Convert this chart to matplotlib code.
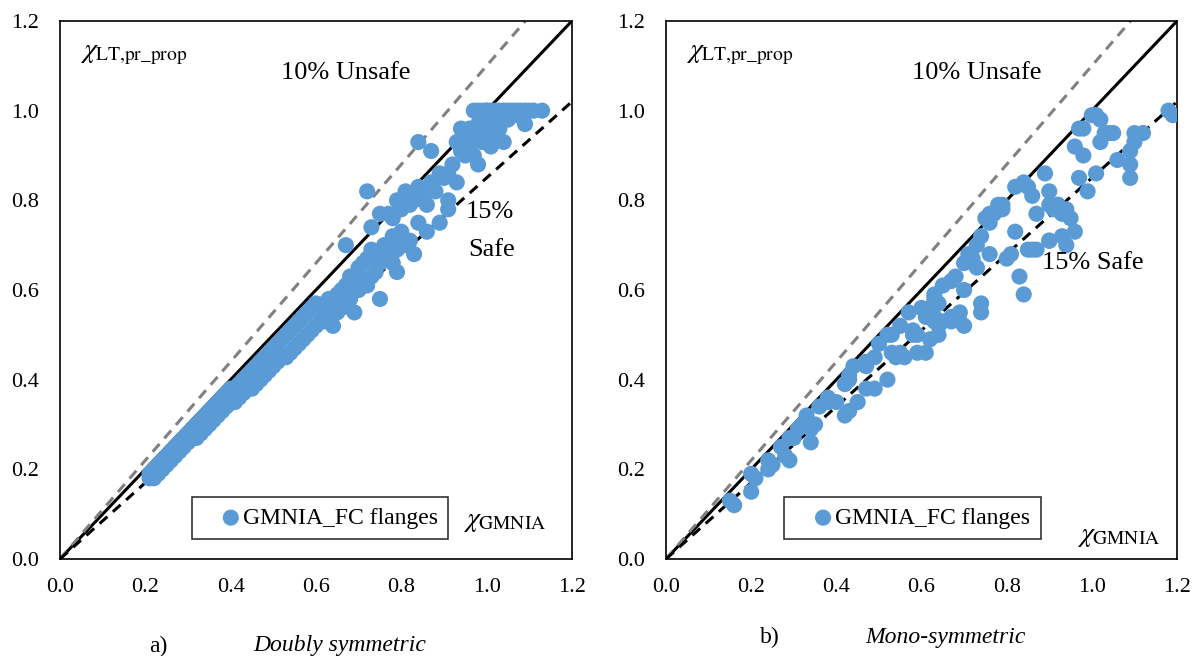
import matplotlib
matplotlib.use('Agg')
import matplotlib.pyplot as plt

plt.rcParams['font.family'] = ['Liberation Serif', 'DejaVu Serif']
plt.rcParams['mathtext.fontset'] = 'stix'

# Données : (chi_GMNIA, chi_LT,pr_prop)
ds_x = [0.21, 0.21, 0.22, 0.22, 0.23, 0.23, 0.24, 0.24, 0.25, 0.25, 0.26, 0.26, 0.27, 0.27,
        0.28, 0.28, 0.29, 0.29, 0.30, 0.30, 0.31, 0.31, 0.32, 0.32, 0.33, 0.33, 0.34, 0.34,
        0.35, 0.35, 0.36, 0.36, 0.37, 0.37, 0.38, 0.38, 0.39, 0.39, 0.40, 0.40, 0.41, 0.41,
        0.42, 0.42, 0.43, 0.43, 0.44, 0.44, 0.45, 0.45, 0.46, 0.46, 0.47, 0.47, 0.48, 0.48,
        0.49, 0.49, 0.50, 0.50, 0.51, 0.51, 0.52, 0.52, 0.53, 0.53, 0.54, 0.54, 0.55, 0.55,
        0.56, 0.56, 0.57, 0.57, 0.58, 0.58, 0.59, 0.59, 0.60, 0.60, 0.61, 0.61, 0.62, 0.62,
        0.63, 0.63, 0.64, 0.64, 0.65, 0.65, 0.66, 0.66, 0.67, 0.67, 0.68, 0.68, 0.69, 0.69,
        0.70, 0.70, 0.71, 0.71, 0.72, 0.72, 0.73, 0.73, 0.74, 0.74, 0.75, 0.75, 0.76, 0.76,
        0.77, 0.78, 0.79, 0.79,
        0.67, 0.72, 0.73, 0.75, 0.77, 0.78, 0.79, 0.80, 0.81, 0.82, 0.83, 0.84, 0.85, 0.86,
        0.84, 0.87, 0.87, 0.88, 0.89, 0.90, 0.91, 0.91, 0.92, 0.93, 0.82, 0.83, 0.89, 0.91,
        0.84, 0.86, 0.80, 0.81, 0.78,
        0.93, 0.94, 0.95, 0.96, 0.96, 0.97, 0.97, 0.98, 0.98, 0.99, 0.99, 1.00, 1.00, 1.01,
        1.01, 1.02, 1.02, 1.03, 1.04, 0.97, 0.98, 0.99, 1.00, 1.01, 1.02, 1.03, 1.04, 1.05,
        1.06, 1.07, 1.08, 1.09, 1.10, 1.11, 1.13, 1.05, 1.07, 1.09, 0.95, 0.94]
ds_y = [0.18, 0.19, 0.20, 0.18, 0.19, 0.21, 0.20, 0.22, 0.21, 0.23, 0.22, 0.24, 0.23, 0.25,
        0.24, 0.26, 0.25, 0.27, 0.26, 0.28, 0.27, 0.29, 0.27, 0.30, 0.28, 0.31, 0.29, 0.32,
        0.30, 0.33, 0.31, 0.34, 0.32, 0.35, 0.33, 0.36, 0.34, 0.37, 0.35, 0.38, 0.35, 0.38,
        0.36, 0.39, 0.37, 0.40, 0.38, 0.41, 0.38, 0.42, 0.39, 0.43, 0.40, 0.44, 0.41, 0.45,
        0.42, 0.46, 0.43, 0.47, 0.44, 0.48, 0.45, 0.49, 0.45, 0.50, 0.46, 0.51, 0.47, 0.52,
        0.48, 0.53, 0.49, 0.54, 0.50, 0.55, 0.51, 0.56, 0.52, 0.57, 0.53, 0.56, 0.53, 0.57,
        0.54, 0.58, 0.52, 0.57, 0.55, 0.59, 0.56, 0.60, 0.57, 0.61, 0.58, 0.63, 0.55, 0.62,
        0.60, 0.65, 0.62, 0.66, 0.61, 0.67, 0.63, 0.69, 0.64, 0.68, 0.58, 0.66, 0.67, 0.70,
        0.68, 0.66, 0.64, 0.69,
        0.70, 0.82, 0.74, 0.77, 0.77, 0.76, 0.80, 0.78, 0.82, 0.79, 0.80, 0.83, 0.81, 0.79,
        0.93, 0.91, 0.84, 0.82, 0.86, 0.85, 0.80, 0.86, 0.88, 0.84, 0.71, 0.68, 0.75, 0.78,
        0.75, 0.73, 0.73, 0.70, 0.72,
        0.93, 0.91, 0.94, 0.92, 0.96, 0.95, 0.90, 0.97, 0.88, 0.93, 0.98, 0.95, 1.00, 0.92,
        0.97, 0.99, 0.94, 0.96, 0.93, 1.00, 1.00, 1.00, 1.00, 1.00, 1.00, 1.00, 1.00, 1.00,
        1.00, 1.00, 1.00, 1.00, 1.00, 1.00, 1.00, 0.98, 0.99, 0.97, 0.90, 0.96]

ms_x = [0.15, 0.16, 0.20, 0.21, 0.20, 0.24, 0.25, 0.24, 0.27, 0.28, 0.29, 0.29, 0.30, 0.31,
        0.32, 0.33, 0.34, 0.34, 0.35, 0.36, 0.38, 0.38, 0.40, 0.42, 0.43, 0.43, 0.42, 0.44,
        0.45, 0.47, 0.47, 0.49, 0.49, 0.52, 0.53, 0.54, 0.56, 0.59, 0.59, 0.62, 0.62, 0.58,
        0.64, 0.61, 0.63, 0.62, 0.61, 0.67, 0.69, 0.74, 0.43, 0.47, 0.50, 0.52, 0.55, 0.57,
        0.60, 0.63, 0.65, 0.68, 0.70, 0.71, 0.73, 0.74, 0.75, 0.76, 0.78, 0.79, 0.80, 0.81,
        0.82, 0.83, 0.84, 0.85, 0.87, 0.86, 0.90, 0.90, 0.93, 0.94, 0.90, 0.87, 0.85, 0.82,
        0.92, 0.94, 0.95, 0.96, 0.89, 0.90, 0.92, 0.86, 0.84, 0.79, 0.77, 0.76, 0.91, 0.93,
        0.96, 0.97, 0.98, 1.00, 0.98, 1.01, 1.02, 1.03, 1.05, 0.97, 0.99, 1.02, 1.04, 1.01,
        1.10, 1.12, 1.10, 1.09, 1.06, 1.09, 1.09, 1.18, 1.19, 0.67, 0.70, 0.63, 0.64, 0.73,
        0.76, 0.72, 0.74, 0.61, 0.63, 0.65, 0.67, 0.69, 0.70, 0.53, 0.58, 0.64, 0.55]
ms_y = [0.13, 0.12, 0.19, 0.18, 0.15, 0.22, 0.21, 0.20, 0.25, 0.23, 0.22, 0.27, 0.27, 0.29,
        0.30, 0.32, 0.29, 0.26, 0.30, 0.34, 0.35, 0.36, 0.35, 0.39, 0.41, 0.33, 0.32, 0.43,
        0.35, 0.38, 0.43, 0.45, 0.38, 0.40, 0.46, 0.45, 0.45, 0.46, 0.50, 0.49, 0.54, 0.51,
        0.52, 0.55, 0.54, 0.56, 0.46, 0.53, 0.55, 0.57, 0.40, 0.44, 0.48, 0.50, 0.52, 0.55,
        0.56, 0.59, 0.61, 0.63, 0.66, 0.68, 0.70, 0.72, 0.76, 0.77, 0.79, 0.78, 0.67, 0.68,
        0.73, 0.63, 0.59, 0.69, 0.69, 0.69, 0.71, 0.71, 0.72, 0.70, 0.79, 0.77, 0.83, 0.83,
        0.79, 0.78, 0.76, 0.73, 0.86, 0.82, 0.79, 0.81, 0.84, 0.79, 0.77, 0.75, 0.78, 0.77,
        0.92, 0.96, 0.96, 0.99, 0.90, 0.99, 0.98, 0.95, 0.95, 0.85, 0.82, 0.93, 0.95, 0.86,
        0.95, 0.95, 0.93, 0.91, 0.89, 0.88, 0.85, 1.00, 0.99, 0.62, 0.60, 0.58, 0.57, 0.65,
        0.68, 0.67, 0.55, 0.54, 0.53, 0.53, 0.54, 0.53, 0.52, 0.50, 0.50, 0.50, 0.46]

ticks = [0.0, 0.2, 0.4, 0.6, 0.8, 1.0, 1.2]
limite = [0.0, 1.2]
bleu = '#5B9BD5'

fig = plt.figure(figsize=(11.97, 6.56), dpi=100)
ax1 = fig.add_axes([0.0501, 0.1479, 0.4277, 0.8201])
ax2 = fig.add_axes([0.5564, 0.1479, 0.4269, 0.8201])

panneaux = [
    (ax1, ds_x, ds_y, (0.508, 0.076), 0.949, 0.069, 0.559),
    (ax2, ms_x, ms_y, (0.482, 0.076), 0.967, 0.041, 0.609),
]

for ax, x, y, leg_pos, gx, gy, ux in panneaux:
    # droites de référence
    ax.plot(limite, limite, color='black', lw=2.2, zorder=2)
    ax.plot([0, 1.2 / 1.1], [0, 1.2], color='#808080', lw=2.2, dashes=(3.4, 2.4), zorder=2)
    ax.plot([0, 1.2], [0, 1.2 * 0.85], color='black', lw=2.2, dashes=(3.4, 2.4), zorder=2)
    ax.scatter(x, y, s=135, color=bleu, edgecolors='none', zorder=3, label='GMNIA_FC flanges')

    ax.set_xlim(limite)
    ax.set_ylim(limite)
    ax.set_xticks(ticks)
    ax.set_yticks(ticks)
    ax.set_xticklabels([f'{t:.1f}' for t in ticks])
    ax.set_yticklabels([f'{t:.1f}' for t in ticks])
    ax.tick_params(axis='both', length=0, labelsize=16)
    ax.tick_params(axis='x', pad=14)
    ax.tick_params(axis='y', pad=15)
    for sp in ax.spines.values():
        sp.set_linewidth(1.2)
        sp.set_color('black')

    leg = ax.legend(loc='center', bbox_to_anchor=leg_pos, fontsize=17, frameon=True,
                    fancybox=False, handletextpad=-0.7, handlelength=2.4,
                    borderpad=0.45, borderaxespad=0, markerscale=1.0)
    leg.get_frame().set_edgecolor('black')
    leg.get_frame().set_linewidth(1.2)

    ax.text(0.04, 0.937, r'$\chi_{\mathrm{LT{,}pr\_prop}}$', transform=ax.transAxes,
            fontsize=20, va='center', ha='left')
    ax.text(gx, gy, r'$\chi_{\mathrm{GMNIA}}$', transform=ax.transAxes,
            fontsize=20, va='center', ha='right')
    ax.text(ux, 0.903, '10% Unsafe', transform=ax.transAxes, fontsize=19,
            ha='center', va='center')

ax1.text(0.840, 0.645, '15%', transform=ax1.transAxes, fontsize=19, ha='center', va='center')
ax1.text(0.844, 0.574, 'Safe', transform=ax1.transAxes, fontsize=19, ha='center', va='center')
ax2.text(0.836, 0.550, '15% Safe', transform=ax2.transAxes, fontsize=19, ha='center', va='center')

fig.text(0.132, 0.014, 'a)', fontsize=17, ha='center', va='center')
fig.text(0.284, 0.016, 'Doubly symmetric', fontsize=17, style='italic', ha='center', va='center')
fig.text(0.643, 0.028, 'b)', fontsize=17, ha='center', va='center')
fig.text(0.790, 0.028, 'Mono-symmetric', fontsize=17, style='italic', ha='center', va='center')

plt.savefig('out.png', dpi=100)
